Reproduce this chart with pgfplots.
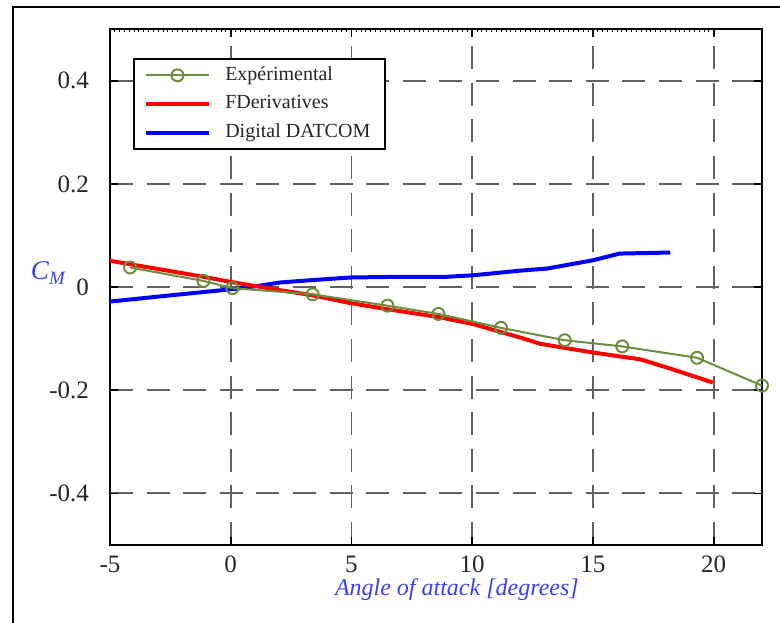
\documentclass[border=0pt]{standalone}
\usepackage{pgfplots}
\pgfplotsset{compat=1.18}
\usepackage{fontspec}
\setmainfont{Liberation Serif}
\definecolor{olivegreen}{RGB}{110,140,60}
\definecolor{lblue}{RGB}{60,60,255}
\begin{document}
\begin{tikzpicture}
\useasboundingbox (-55pt,-38.5pt) rectangle (335pt,272.5pt);
\draw[line width=1pt] (-48.6pt,-40pt) -- (-48.6pt,269.2pt) -- (340pt,269.2pt);
\begin{axis}[
  at={(0pt,0pt)}, anchor=south west,
  scale only axis, width=326pt, height=257.9pt,
  xmin=-5, xmax=22, ymin=-0.5, ymax=0.5,
  axis x line*=top, axis y line=none,
  xtick={-5,0,5,10,15,20}, xticklabels={},
  major tick length=0pt, minor x tick num=24, minor tick length=1.6pt,
  tick align=inside, tick style={black, line width=0.5pt},
  axis line style={draw=none},
]
\end{axis}
\begin{axis}[
  at={(0pt,0pt)}, anchor=south west,
  scale only axis, width=326pt, height=257.9pt,
  xmin=-5, xmax=22, ymin=-0.5, ymax=0.5,
  xtick={-5,0,5,10,15,20}, xticklabels={-5,0,5,10,15,20},
  ytick={-0.4,-0.2,0,0.2,0.4}, yticklabels={-0.4,-0.2,0,0.2,0.4},
  grid=major,
  major grid style={black!62, line width=0.95pt, dash pattern=on 11.5pt off 6.8pt},
  tick align=inside, major tick length=4pt,
  tick style={black, line width=0.8pt},
  axis line style={line width=1pt},
  ticklabel style={font=\fontsize{12.5}{14}\selectfont, text=black!85},
  yticklabel style={xshift=-7pt},
  xticklabel style={yshift=-2pt},
  clip=false,
  xlabel={Angle of attack [degrees]},
  xlabel style={at={(axis description cs:0.532,-0.087)}, anchor=center, font=\fontsize{12}{14}\selectfont\itshape, text=lblue},
  ylabel={\textit{C}\textsubscript{\textit{M}}},
  ylabel style={rotate=-90, at={(axis description cs:-0.094,0.527)}, anchor=center, font=\fontsize{13.5}{15}\selectfont, text=lblue},
  legend cell align=left,
  legend style={at={(axis description cs:0.0357,0.945)}, anchor=north west, draw=black, line width=1pt, fill=white,
    font=\fontsize{10}{12}\selectfont, text=black!85, inner xsep=5pt, inner ysep=1.4pt, row sep=0.3pt,
    nodes={text height=7pt, text depth=2pt, inner sep=2.5pt}},
  legend image code/.code={\draw[mark repeat=2,mark phase=2,#1] plot coordinates {(0pt,0pt) (15.6pt,0pt) (31.3pt,0pt)}; \path (36pt,0pt);},
]
\addplot[blue, line width=2pt, forget plot] coordinates {
(-5,-0.028) (-2.5,-0.016) (0.07,-0.004) (1.1,0.002) (2.05,0.009) (3.5,0.014) (4.95,0.0186) (7,0.020) (8.95,0.020) (10.06,0.023) (12.0,0.032) (13.1,0.036) (15.0,0.052) (16.1,0.065) (18.2,0.067)
};
\addplot[red, line width=2pt, forget plot] coordinates {
(-5,0.051) (-2.5,0.031) (-1.13,0.020) (0,0.010) (2.05,-0.006) (3.4,-0.016) (4.95,-0.031) (6.5,-0.043) (8.6,-0.058) (10.06,-0.072) (12.0,-0.098) (12.82,-0.110) (15.02,-0.127) (16.96,-0.140) (18.07,-0.156) (19.96,-0.185)
};
\addplot[olivegreen, line width=1pt, mark=o, mark size=3pt, mark options={line width=1pt}] coordinates {
(-4.17,0.038) (-1.13,0.012) (0.07,-0.002) (3.39,-0.014) (6.49,-0.036) (8.6,-0.052) (11.19,-0.079) (13.83,-0.103) (16.21,-0.115) (19.31,-0.137) (22.0,-0.191)
};
\addlegendentry{Expérimental}
\addlegendimage{red, line width=2pt}
\addlegendentry{FDerivatives}
\addlegendimage{blue, line width=2pt}
\addlegendentry{Digital DATCOM}
\end{axis}
\end{tikzpicture}
\end{document}
